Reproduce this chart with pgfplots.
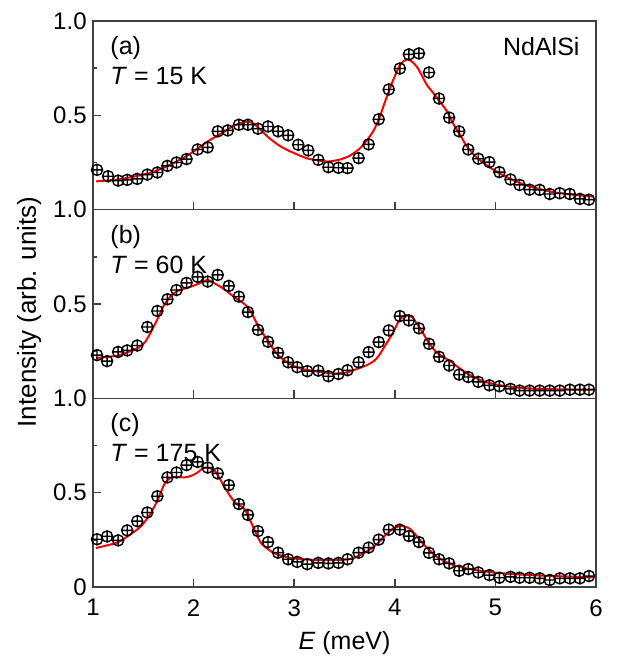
\documentclass[border=0pt]{standalone}
\usepackage{fontspec}
\setmainfont{Liberation Sans}
\usepackage{pgfplots}
\pgfplotsset{compat=1.18}
\usepackage{pgfplotstable}

\pgfplotstableread{
E I
1.04 0.211
1.15 0.177
1.25 0.154
1.34 0.158
1.44 0.163
1.54 0.186
1.64 0.197
1.74 0.232
1.83 0.250
1.93 0.268
2.04 0.319
2.14 0.330
2.24 0.415
2.34 0.420
2.45 0.450
2.54 0.450
2.64 0.429
2.74 0.441
2.84 0.415
2.94 0.394
3.04 0.344
3.14 0.314
3.24 0.264
3.34 0.225
3.44 0.222
3.53 0.220
3.64 0.273
3.74 0.346
3.84 0.479
3.94 0.637
4.05 0.748
4.14 0.823
4.24 0.828
4.34 0.727
4.44 0.589
4.54 0.488
4.64 0.415
4.73 0.319
4.83 0.270
4.94 0.252
5.04 0.199
5.15 0.160
5.24 0.131
5.34 0.106
5.44 0.105
5.54 0.083
5.64 0.087
5.74 0.083
5.84 0.057
5.93 0.053
}\dataA

\pgfplotstableread{
E I
1.03 0.150
1.25 0.160
1.45 0.180
1.60 0.200
1.75 0.234
1.90 0.275
2.04 0.323
2.15 0.365
2.28 0.405
2.40 0.445
2.51 0.465
2.60 0.455
2.74 0.385
2.85 0.340
2.94 0.314
3.05 0.288
3.14 0.270
3.25 0.260
3.34 0.255
3.45 0.265
3.55 0.285
3.65 0.323
3.72 0.365
3.79 0.420
3.85 0.490
3.89 0.553
3.95 0.640
3.99 0.695
4.05 0.765
4.10 0.792
4.13 0.796
4.17 0.785
4.22 0.757
4.27 0.710
4.32 0.660
4.38 0.620
4.45 0.571
4.52 0.520
4.58 0.456
4.65 0.395
4.71 0.340
4.78 0.295
4.85 0.261
4.95 0.222
5.05 0.190
5.18 0.155
5.31 0.128
5.45 0.108
5.58 0.092
5.75 0.080
5.97 0.069
}\fitA

\pgfplotstableread{
E I
1.04 0.229
1.14 0.197
1.25 0.246
1.34 0.254
1.44 0.280
1.54 0.378
1.64 0.463
1.74 0.525
1.83 0.574
1.93 0.612
2.04 0.644
2.14 0.619
2.24 0.654
2.35 0.596
2.45 0.539
2.54 0.457
2.64 0.363
2.74 0.300
2.84 0.241
2.94 0.191
3.03 0.165
3.13 0.144
3.24 0.147
3.34 0.117
3.44 0.129
3.53 0.149
3.64 0.191
3.74 0.245
3.84 0.298
3.94 0.360
4.05 0.436
4.14 0.413
4.24 0.371
4.34 0.289
4.44 0.220
4.54 0.174
4.64 0.126
4.73 0.113
4.83 0.087
4.94 0.069
5.04 0.064
5.15 0.050
5.24 0.041
5.34 0.041
5.44 0.041
5.54 0.041
5.64 0.041
5.74 0.046
5.84 0.046
5.93 0.046
}\dataB

\pgfplotstableread{
E I
1.03 0.214
1.25 0.227
1.45 0.268
1.52 0.300
1.58 0.356
1.65 0.430
1.71 0.498
1.78 0.545
1.84 0.569
1.93 0.585
2.01 0.599
2.08 0.615
2.14 0.628
2.20 0.612
2.28 0.587
2.35 0.560
2.41 0.534
2.51 0.498
2.58 0.450
2.64 0.383
2.70 0.335
2.74 0.303
2.80 0.255
2.87 0.214
2.94 0.188
3.00 0.170
3.10 0.153
3.20 0.144
3.30 0.137
3.40 0.131
3.53 0.138
3.65 0.161
3.72 0.175
3.79 0.197
3.84 0.225
3.89 0.268
3.94 0.310
3.99 0.356
4.04 0.410
4.10 0.441
4.14 0.437
4.18 0.427
4.22 0.395
4.27 0.356
4.31 0.318
4.35 0.286
4.42 0.241
4.55 0.197
4.63 0.165
4.71 0.135
4.80 0.110
4.88 0.090
5.00 0.074
5.11 0.064
5.25 0.055
5.44 0.050
5.70 0.047
5.97 0.046
}\fitB

\pgfplotstableread{
E I
1.04 0.253
1.14 0.268
1.25 0.247
1.34 0.300
1.44 0.349
1.54 0.395
1.64 0.481
1.74 0.581
1.83 0.607
1.93 0.646
2.04 0.663
2.14 0.633
2.24 0.602
2.35 0.540
2.45 0.440
2.54 0.382
2.64 0.296
2.74 0.238
2.84 0.182
2.94 0.147
3.03 0.133
3.13 0.121
3.24 0.128
3.34 0.125
3.44 0.128
3.53 0.147
3.64 0.182
3.74 0.209
3.84 0.251
3.94 0.304
4.05 0.304
4.14 0.270
4.24 0.238
4.34 0.181
4.44 0.147
4.54 0.125
4.64 0.086
4.73 0.095
4.83 0.077
4.94 0.063
5.04 0.049
5.15 0.054
5.24 0.049
5.34 0.049
5.44 0.046
5.54 0.037
5.64 0.046
5.74 0.046
5.84 0.046
5.93 0.058
}\dataC

\pgfplotstableread{
E I
1.03 0.207
1.25 0.238
1.45 0.309
1.52 0.350
1.58 0.396
1.65 0.470
1.71 0.546
1.76 0.575
1.81 0.584
1.91 0.581
1.98 0.590
2.04 0.607
2.09 0.628
2.13 0.633
2.17 0.628
2.21 0.616
2.26 0.575
2.31 0.528
2.36 0.485
2.41 0.449
2.45 0.432
2.49 0.423
2.53 0.390
2.57 0.344
2.62 0.285
2.67 0.233
2.74 0.200
2.81 0.177
2.90 0.162
3.00 0.151
3.27 0.142
3.53 0.146
3.62 0.160
3.70 0.183
3.79 0.212
3.86 0.250
3.92 0.282
3.98 0.308
4.05 0.323
4.10 0.320
4.15 0.309
4.21 0.275
4.28 0.230
4.35 0.192
4.42 0.160
4.50 0.135
4.58 0.116
4.70 0.100
4.85 0.086
5.00 0.076
5.18 0.068
5.38 0.062
5.58 0.058
5.80 0.054
5.97 0.051
}\fitC

\pgfplotsset{
  panel/.style={
    width=251.5pt, height=94.33pt, scale only axis,
    xmin=1, xmax=6, ymin=0, ymax=1,
    xtick={1,2,3,4,5,6}, ytick={0,0.5,1}, minor ytick={0.25,0.75},
    tick pos=left, tick align=inside,
    major tick length=4pt, minor tick length=2pt,
    axis line style={black!75, line width=0.75pt},
    tick style={black!75, line width=0.75pt},
    tick label style={font=\fontsize{12}{14}\selectfont},
    xticklabel style={inner sep=0pt, yshift=-6pt},
    yticklabel style={inner sep=0pt, xshift=-3pt},
    clip=false,
  },
  datastyle/.style={only marks, mark=oplus, mark size=2.8pt,
    mark options={black, line width=0.7pt, fill=gray!25}},
  fitstyle/.style={red, line width=1pt, smooth, tension=0.4},
}
\tikzset{
  lbl/.style={anchor=north west, inner sep=0pt, align=left,
    font=\fontsize{12.5}{15}\selectfont},
}

\begin{document}
\begin{tikzpicture}
% panel (c)
\begin{axis}[panel, at={(0pt,0pt)}, anchor=south west,
  xticklabels={1,2,3,4,5,6}, yticklabels={0,0.5,1.0}]
  \addplot[datastyle] table[x=E, y=I] {\dataC};
  \addplot[fitstyle] table[x=E, y=I] {\fitC};
  \node[lbl] at (rel axis cs:0.034,0.92) {(c)\\\textit{T} = 175 K};
\end{axis}
% panel (b)
\begin{axis}[panel, at={(0pt,94.33pt)}, anchor=south west,
  xticklabels={}, yticklabels={,0.5,1.0}]
  \addplot[datastyle] table[x=E, y=I] {\dataB};
  \addplot[fitstyle] table[x=E, y=I] {\fitB};
  \node[lbl] at (rel axis cs:0.034,0.92) {(b)\\\textit{T} = 60 K};
\end{axis}
% panel (a)
\begin{axis}[panel, at={(0pt,188.67pt)}, anchor=south west,
  xticklabels={}, yticklabels={,0.5,1.0}]
  \addplot[datastyle] table[x=E, y=I] {\dataA};
  \addplot[fitstyle] table[x=E, y=I] {\fitA};
  \node[lbl] at (rel axis cs:0.034,0.92) {(a)\\\textit{T} = 15 K};
  \node[anchor=north east, inner sep=0pt, font=\fontsize{12.5}{15}\selectfont]
    at (rel axis cs:0.968,0.915) {NdAlSi};
\end{axis}
\node[rotate=90, anchor=base, inner sep=0pt, font=\fontsize{13}{15}\selectfont]
  at (-28.5pt,137.5pt) {Intensity (arb. units)};
\node[anchor=base, inner sep=0pt, font=\fontsize{12.5}{15}\selectfont]
  at (125.75pt,-31.5pt) {\textit{E} (meV)};
\path (-46.5pt,-35pt) rectangle (267pt,293.5pt);
\end{tikzpicture}
\end{document}
